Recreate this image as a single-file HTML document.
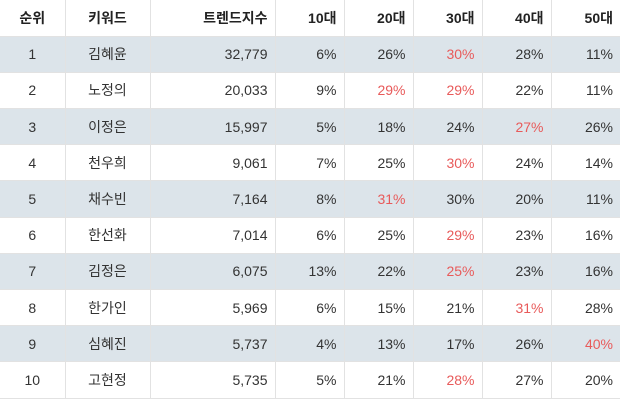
<!DOCTYPE html><html><head><meta charset="utf-8"><style>
body{margin:0;width:620px;height:400px;background:#fff;overflow:hidden}
table{border-collapse:collapse;width:620px;table-layout:fixed;font-family:"Liberation Sans","Noto Sans CJK KR",sans-serif;font-size:14px;color:#333}
td,th{height:35.2px;padding:0 7px;border-left:1px solid #e2e2e2;border-bottom:1px solid #e2e2e2;box-sizing:border-box;line-height:16px}
tr{height:36.2px}
td:first-child,th:first-child{border-left:none}
th{font-weight:bold;color:#222}
tr.s td{background:#dce4ea}
.c{text-align:center}.r{text-align:right}
.red{color:#e85a5a}
</style></head><body><table>
<colgroup><col style="width:65px"><col style="width:85px"><col style="width:125px"><col style="width:69px"><col style="width:69px"><col style="width:69px"><col style="width:69px"><col style="width:69px"></colgroup>
<tr><th class="c">순위</th><th class="c">키워드</th><th class="r">트렌드지수</th><th class="r">10대</th><th class="r">20대</th><th class="r">30대</th><th class="r">40대</th><th class="r">50대</th></tr>
<tr class="s"><td class="c">1</td><td class="c">김혜윤</td><td class="r">32,779</td><td class="r">6%</td><td class="r">26%</td><td class="r red">30%</td><td class="r">28%</td><td class="r">11%</td></tr>
<tr><td class="c">2</td><td class="c">노정의</td><td class="r">20,033</td><td class="r">9%</td><td class="r red">29%</td><td class="r red">29%</td><td class="r">22%</td><td class="r">11%</td></tr>
<tr class="s"><td class="c">3</td><td class="c">이정은</td><td class="r">15,997</td><td class="r">5%</td><td class="r">18%</td><td class="r">24%</td><td class="r red">27%</td><td class="r">26%</td></tr>
<tr><td class="c">4</td><td class="c">천우희</td><td class="r">9,061</td><td class="r">7%</td><td class="r">25%</td><td class="r red">30%</td><td class="r">24%</td><td class="r">14%</td></tr>
<tr class="s"><td class="c">5</td><td class="c">채수빈</td><td class="r">7,164</td><td class="r">8%</td><td class="r red">31%</td><td class="r">30%</td><td class="r">20%</td><td class="r">11%</td></tr>
<tr><td class="c">6</td><td class="c">한선화</td><td class="r">7,014</td><td class="r">6%</td><td class="r">25%</td><td class="r red">29%</td><td class="r">23%</td><td class="r">16%</td></tr>
<tr class="s"><td class="c">7</td><td class="c">김정은</td><td class="r">6,075</td><td class="r">13%</td><td class="r">22%</td><td class="r red">25%</td><td class="r">23%</td><td class="r">16%</td></tr>
<tr><td class="c">8</td><td class="c">한가인</td><td class="r">5,969</td><td class="r">6%</td><td class="r">15%</td><td class="r">21%</td><td class="r red">31%</td><td class="r">28%</td></tr>
<tr class="s"><td class="c">9</td><td class="c">심혜진</td><td class="r">5,737</td><td class="r">4%</td><td class="r">13%</td><td class="r">17%</td><td class="r">26%</td><td class="r red">40%</td></tr>
<tr><td class="c">10</td><td class="c">고현정</td><td class="r">5,735</td><td class="r">5%</td><td class="r">21%</td><td class="r red">28%</td><td class="r">27%</td><td class="r">20%</td></tr>
</table></body></html>
